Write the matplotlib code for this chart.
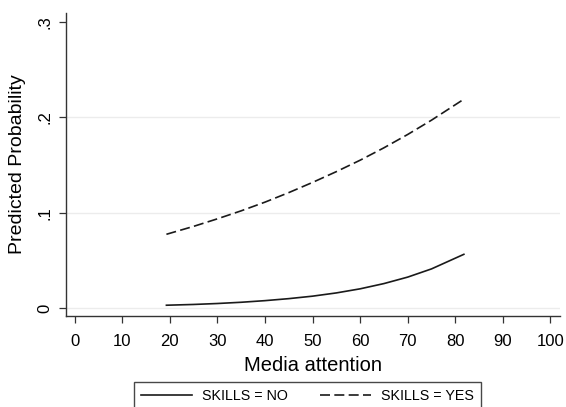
import numpy as np
import matplotlib
matplotlib.use('Agg')
import matplotlib.pyplot as plt

plt.rcParams['font.family'] = ['Liberation Sans', 'DejaVu Sans']

# predicted probabilities by media attention
media = [19.3, 25, 30, 35, 40, 45, 50, 55, 60, 65, 70, 75, 81.8]
prob_no = [0.0029, 0.0037, 0.0047, 0.0060, 0.0077, 0.0098, 0.0124,
           0.0158, 0.0201, 0.0256, 0.0324, 0.0410, 0.0563]
prob_yes = [0.0773, 0.0856, 0.0935, 0.1019, 0.111, 0.121, 0.1317,
            0.143, 0.155, 0.168, 0.182, 0.197, 0.219]

xticks = list(range(0, 101, 10))
yticks = [0, 0.1, 0.2, 0.3]
ylabels = ['0', '.1', '.2', '.3']

fig = plt.figure(figsize=(5.66, 4.07), dpi=100)
ax = fig.add_axes([66/566, 1 - 316/407, (560 - 66)/566, (316 - 13)/407])

for g in [0, 0.1, 0.2]:
    ax.axhline(g, color='#ececec', lw=1.0, zorder=0)

l1, = ax.plot(media, prob_no, color='#1a1a1a', lw=1.2, label='SKILLS = NO')
l2, = ax.plot(media, prob_yes, color='#1a1a1a', lw=1.2, dashes=(6, 2.6),
              label='SKILLS = YES')

ax.set_xlim(-1.8, 102.0)
ax.set_ylim(-0.0084, 0.3094)
ax.set_xticks(xticks)
ax.set_yticks(yticks)
ax.set_yticklabels(ylabels, rotation=90, va='center')
ax.tick_params(axis='both', labelsize=12, length=5, width=0.9, color='#333333')
ax.tick_params(axis='x', pad=8)
ax.tick_params(axis='y', pad=5)

for s in ['top', 'right']:
    ax.spines[s].set_visible(False)
for s in ['left', 'bottom']:
    ax.spines[s].set_linewidth(1.0)
    ax.spines[s].set_color('#333333')

ax.set_xlabel('Media attention', fontsize=14.5, labelpad=5)
ax.set_ylabel('Predicted Probability', fontsize=14, labelpad=8)

leg = fig.legend(handles=[l1, l2], loc='upper center', ncol=2,
                 bbox_to_anchor=(307.5/566, 1 - 382/407), fontsize=10.3,
                 frameon=True, fancybox=False, edgecolor='#1a1a1a',
                 handlelength=3.6, columnspacing=2.2, handletextpad=0.7,
                 borderpad=0.5, borderaxespad=0)
leg.get_frame().set_linewidth(1.0)

fig.savefig('out.png', dpi=100)
